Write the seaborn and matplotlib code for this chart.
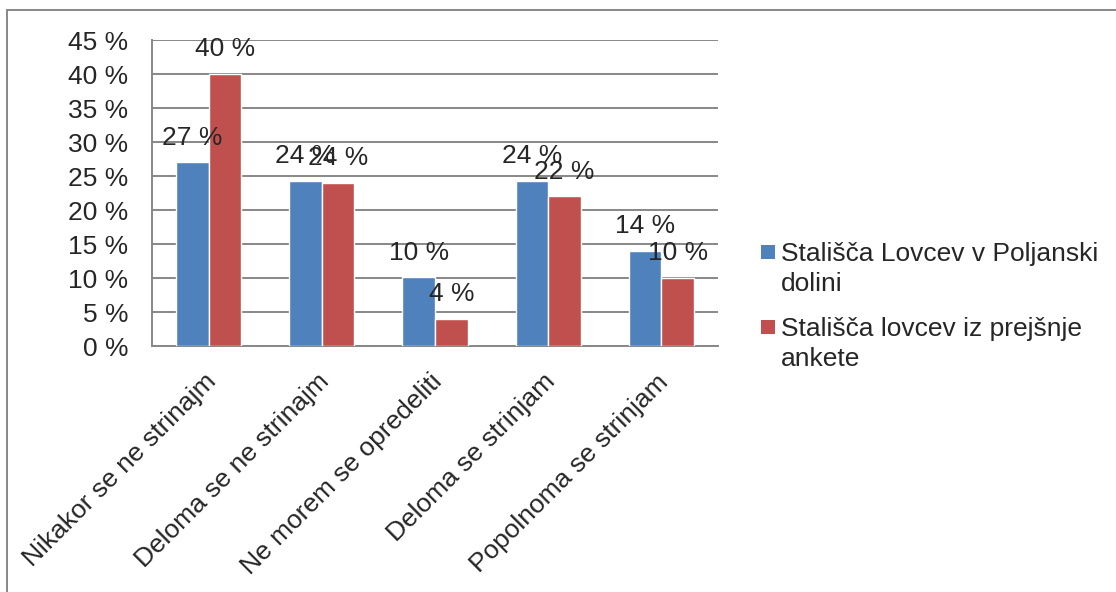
import seaborn as sns
import pandas as pd
import matplotlib.pyplot as plt
from matplotlib.patches import Rectangle
from matplotlib.lines import Line2D
from matplotlib.transforms import ScaledTranslation

# data (percent)
kategorije = ['Nikakor se ne strinajm', 'Deloma se ne strinajm', 'Ne morem se opredeliti',
              'Deloma se strinjam', 'Popolnoma se strinjam']
serije = ['Stališča Lovcev v Poljanski\ndolini', 'Stališča lovcev iz prejšnje\nankete']
poljanska = [27.0, 24.3, 10.1, 24.3, 14.0]
prejsnja = [40.0, 24.0, 4.0, 22.0, 10.0]
y_ticks = [0, 5, 10, 15, 20, 25, 30, 35, 40, 45]
barve = ['#4F81BD', '#C0504D']

df = pd.DataFrame({
    'kategorija': kategorije * 2,
    'serija': [serije[0]] * 5 + [serije[1]] * 5,
    'delez': poljanska + prejsnja,
})

sns.set_style('white')
plt.rcParams['font.family'] = ['Liberation Sans', 'DejaVu Sans']
fs = 19
grid_col = '#878787'

fig = plt.figure(figsize=(11.16, 5.92), dpi=100)
ax = fig.add_axes([152 / 1116, 1 - 346 / 592, (718 - 152) / 1116, (346 - 40) / 592])

sns.barplot(data=df, x='kategorija', y='delez', hue='serija', order=kategorije, hue_order=serije,
            palette=barve, saturation=1, width=0.575, legend=False, ax=ax, zorder=3)

for cont in ax.containers:
    ax.bar_label(cont, labels=[f'{b.get_height():.0f} %' for b in cont], padding=9, fontsize=fs)

ax.set_ylim(0, 45)
ax.set_yticks(y_ticks, labels=[f'{t} %' for t in y_ticks])
ax.yaxis.grid(True, color=grid_col, linewidth=1.4, zorder=0)
ax.set_axisbelow(True)
ax.tick_params(axis='y', length=0, pad=17, labelsize=fs)
ax.set_xlabel('')
ax.set_ylabel('')

ax.set_xticks(range(len(kategorije)), labels=kategorije, rotation=45, ha='right', va='top',
              rotation_mode='anchor')
ax.tick_params(axis='x', length=0, pad=17, labelsize=fs)
ax.set_xlim(-0.5, 4.5)
# nudge the rotated labels a little to the left, like the original
shift = ScaledTranslation(-0.05, 0, fig.dpi_scale_trans)
for lbl in ax.get_xticklabels():
    lbl.set_transform(lbl.get_transform() + shift)

for s in ['top', 'right']:
    ax.spines[s].set_visible(False)
for s in ['left', 'bottom']:
    ax.spines[s].set_color(grid_col)
    ax.spines[s].set_linewidth(1.4)

handles = [Line2D([], [], marker='s', linestyle='', markersize=10, markeredgewidth=0, color=c) for c in barve]
leg = fig.legend(handles, serije, loc='upper left', bbox_to_anchor=(761 / 1116, 1 - 242 / 592),
                 frameon=False, fontsize=fs, handlelength=0.53, handleheight=0.9, handletextpad=0.23,
                 labelspacing=0.8, borderpad=0, borderaxespad=0)
for t in leg.get_texts():
    t.set_linespacing(1.3)
for col in leg._legend_handle_box.get_children():
    for item in col.get_children():
        item.align = 'top'

fig.patches.append(Rectangle((7 / 1116, -0.1), 1.2, 1.1 - 10 / 592, transform=fig.transFigure,
                             fill=False, edgecolor=grid_col, linewidth=1.4))

fig.savefig('out.png', dpi=100)
